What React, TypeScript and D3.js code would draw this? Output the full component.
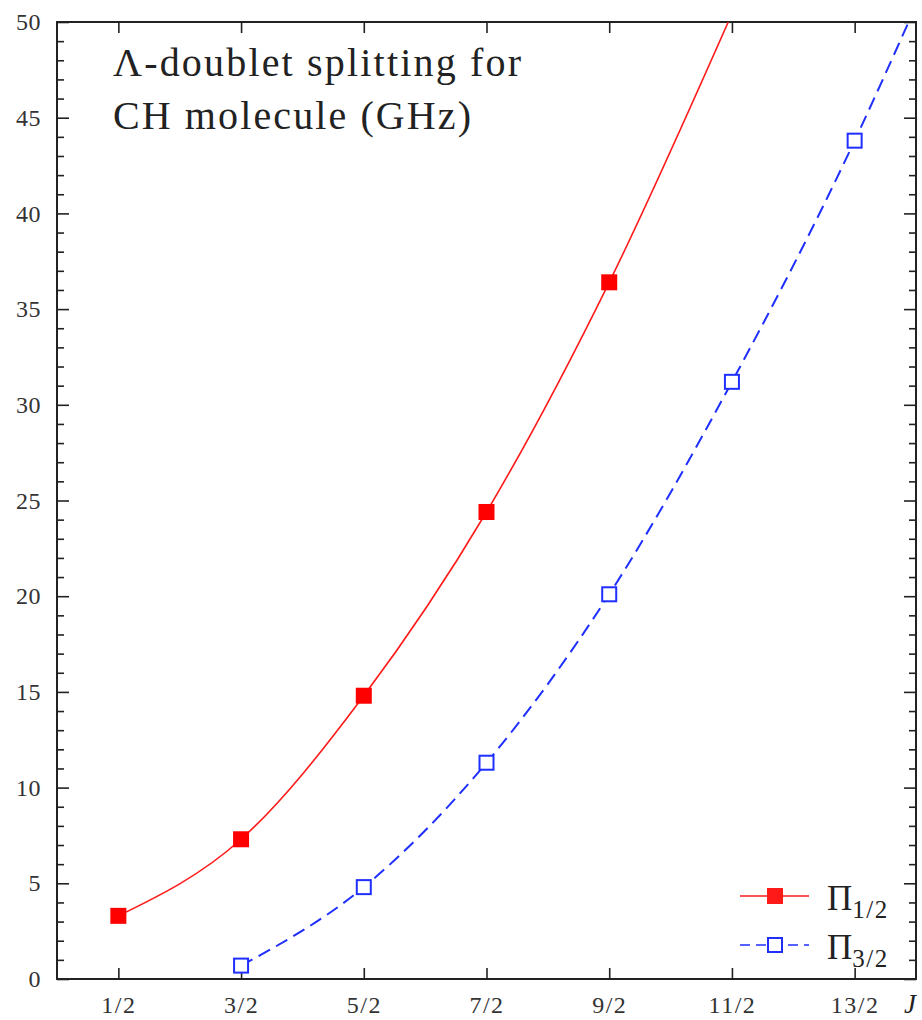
import React, { useEffect, useRef } from 'react';
import * as d3 from 'd3';

// J values and their tick labels
const jValues = [0.5, 1.5, 2.5, 3.5, 4.5, 5.5, 6.5];
const jLabels = ['1/2', '3/2', '5/2', '7/2', '9/2', '11/2', '13/2'];

// Lambda-doublet splitting (GHz)
const pi12J = [0.5, 1.5, 2.5, 3.5, 4.5];
const pi12Values = [3.3, 7.3, 14.8, 24.4, 36.4];
const pi32J = [1.5, 2.5, 3.5, 4.5, 5.5, 6.5];
const pi32Values = [0.7, 4.8, 11.3, 20.1, 31.2, 43.8];

// where each fitted curve leaves the top of the frame
const pi12CurveEnd = { j: 5.47, v: 50 };
const pi32CurveEnd = { j: 6.94, v: 50 };

const yMajor = [0, 5, 10, 15, 20, 25, 30, 35, 40, 45, 50];

const FONT = '"Liberation Serif", "Times New Roman", serif';
const RED = '#ff1a1a';
const BLUE = '#1f2fff';

function App() {
  const ref = useRef<SVGSVGElement | null>(null);

  useEffect(() => {
    document.body.style.margin = '0';
    draw();
  }, []);

  function draw() {
    const svg = d3.select(ref.current);
    svg.selectAll('*').remove();

    const left = 57, right = 916, top = 22, bottom = 979;

    const x = d3.scaleLinear().domain([0, 7]).range([left, right]);
    const y = d3.scaleLinear().domain([0, 50]).range([bottom, top]);

    const jFmt = (d: any) => jLabels[jValues.indexOf(d)] ?? '';

    // minor ticks on left / right
    const minor = d3.range(0, 51).filter(v => v % 5 !== 0);
    svg.append('g').attr('transform', `translate(${left},0)`)
      .call(d3.axisLeft(y).tickValues(minor).tickSize(-7).tickFormat(() => ''))
      .call(g => g.select('.domain').remove());
    svg.append('g').attr('transform', `translate(${right},0)`)
      .call(d3.axisRight(y).tickValues(minor).tickSize(-7).tickFormat(() => ''))
      .call(g => g.select('.domain').remove());

    // major y ticks
    svg.append('g').attr('class', 'ylab').attr('transform', `translate(${left},0)`)
      .call(d3.axisLeft(y).tickValues(yMajor).tickSize(-12).tickPadding(16).tickFormat(d3.format('d')))
      .call(g => g.select('.domain').remove());
    svg.append('g').attr('transform', `translate(${right},0)`)
      .call(d3.axisRight(y).tickValues(yMajor).tickSize(-12).tickFormat(() => ''))
      .call(g => g.select('.domain').remove());

    // x ticks
    svg.append('g').attr('class', 'xlab').attr('transform', `translate(0,${bottom})`)
      .call(d3.axisBottom(x).tickValues(jValues).tickSize(-11).tickPadding(17).tickFormat(jFmt))
      .call(g => g.select('.domain').remove());
    svg.append('g').attr('transform', `translate(0,${top})`)
      .call(d3.axisTop(x).tickValues(jValues).tickSize(-11).tickFormat(() => ''))
      .call(g => g.select('.domain').remove());

    svg.selectAll('.tick line').attr('stroke', '#222').attr('stroke-width', 1.6);
    svg.selectAll('.tick text')
      .attr('font-family', FONT).attr('font-size', 24).attr('fill', '#333');
    svg.selectAll('.xlab .tick text').attr('letter-spacing', 1.5);
    svg.selectAll('.ylab .tick text').attr('letter-spacing', 0.5);

    // frame
    svg.append('rect')
      .attr('x', left).attr('y', top)
      .attr('width', right - left).attr('height', bottom - top)
      .attr('fill', 'none').attr('stroke', '#222').attr('stroke-width', 2);

    const clip = svg.append('defs').append('clipPath').attr('id', 'plot-clip');
    clip.append('rect').attr('x', left).attr('y', top)
      .attr('width', right - left).attr('height', bottom - top);

    const line = d3.line<{ j: number; v: number }>()
      .x(d => x(d.j)).y(d => y(d.v))
      .curve(d3.curveMonotoneX);

    const red = pi12J.map((j, i) => ({ j, v: pi12Values[i] }));
    const blue = pi32J.map((j, i) => ({ j, v: pi32Values[i] }));

    const plot = svg.append('g').attr('clip-path', 'url(#plot-clip)');
    plot.append('path').attr('d', line([...red, pi12CurveEnd]))
      .attr('fill', 'none').attr('stroke', RED).attr('stroke-width', 1.6);
    plot.append('path').attr('d', line([...blue, pi32CurveEnd]))
      .attr('fill', 'none').attr('stroke', BLUE).attr('stroke-width', 2)
      .attr('stroke-dasharray', '13,7');

    const s = 16, sb = 14;
    svg.append('g').selectAll('rect').data(red).enter().append('rect')
      .attr('x', d => x(d.j) - s / 2).attr('y', d => y(d.v) - s / 2)
      .attr('width', s).attr('height', s).attr('fill', '#ff0000');
    svg.append('g').selectAll('rect').data(blue).enter().append('rect')
      .attr('x', d => x(d.j) - sb / 2).attr('y', d => y(d.v) - sb / 2)
      .attr('width', sb).attr('height', sb)
      .attr('fill', '#fff').attr('stroke', BLUE).attr('stroke-width', 2);

    // title
    const title = svg.append('text').attr('font-family', FONT).attr('font-size', 40).attr('fill', '#222');
    title.append('tspan').attr('x', 113).attr('y', 76)
      .attr('textLength', 408).attr('lengthAdjust', 'spacing').text('Λ-doublet splitting for');
    title.append('tspan').attr('x', 113).attr('y', 129)
      .attr('textLength', 358).attr('lengthAdjust', 'spacing').text('CH molecule (GHz)');

    // legend
    const legend = [
      { sub: '1/2', y: 896, color: RED, filled: true, dash: null },
      { sub: '3/2', y: 945, color: BLUE, filled: false, dash: '10,6' },
    ];
    legend.forEach(l => {
      svg.append('line').attr('x1', 740).attr('x2', 809).attr('y1', l.y).attr('y2', l.y)
        .attr('stroke', l.color).attr('stroke-width', 1.6)
        .attr('stroke-dasharray', l.dash);
      const ms = l.filled ? s : sb;
      svg.append('rect').attr('x', 775 - ms / 2).attr('y', l.y - ms / 2)
        .attr('width', ms).attr('height', ms)
        .attr('fill', l.filled ? l.color : '#fff')
        .attr('stroke', l.filled ? 'none' : l.color).attr('stroke-width', 2);
      const t = svg.append('text').attr('x', 827).attr('y', l.y + 14)
        .attr('font-family', FONT).attr('font-size', 35).attr('fill', '#222');
      t.append('tspan').text('Π');
      t.append('tspan').attr('font-size', 25).attr('dy', 8).attr('letter-spacing', 1.5).text(l.sub);
    });

    // axis label
    svg.append('text').attr('x', 904).attr('y', 1013)
      .attr('font-family', FONT).attr('font-style', 'italic')
      .attr('font-size', 27).attr('fill', '#222').text('J');
  }

  return <svg ref={ref} width={922} height={1020} style={{ display: 'block', background: '#fff' }} />;
}

export default App;
